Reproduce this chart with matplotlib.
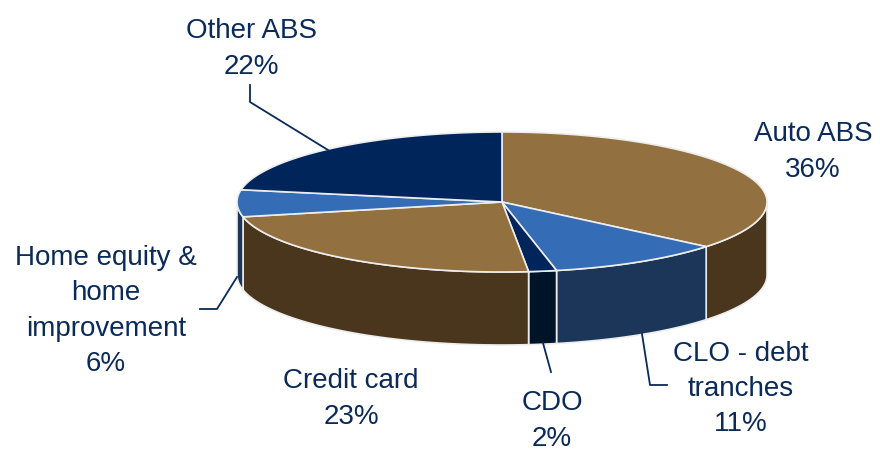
import numpy as np
import matplotlib
matplotlib.use("Agg")
import matplotlib.pyplot as plt

labels = ["Auto ABS\n36%", "CLO - debt\ntranches\n11%", "CDO\n2%", "Credit card\n23%",
          "Home equity &\nhome\nimprovement\n6%", "Other ABS\n22%"]
values = [36.0, 10.7, 1.7, 23.2, 6.2, 22.2]
top_colors = ["#93703F", "#346CB6", "#00255A", "#93703F", "#346CB6", "#00255A"]
side_colors = ["#4A361D", "#1B3659", "#001428", "#4A361D", "#1B3659", "#00255A"]
label_pos = [(813, 152), (741, 389), (552, 421), (351, 399), (106, 311), (251, 49)]
leaders = [[(250, 85), (250, 102), (328, 150)], [(642, 334), (650, 385), (667, 385)],
           [(543, 343), (551, 372)], [(237, 277), (217, 309), (200, 309)]]

cx, cy, rx, ry, depth = 502, 202, 265, 70, 73
edge_col = "#EDEDED"

fig = plt.figure(figsize=(8.8, 4.5), dpi=100)
ax = fig.add_axes([0, 0, 1, 1])
ax.set_xlim(0, 880)
ax.set_ylim(450, 0)
ax.axis("off")

edges = np.cumsum([0] + values) / sum(values) * 2 * np.pi
def pts(t, dy=0):
    return cx + rx * np.sin(t), cy - ry * np.cos(t) + dy

for i in range(len(values)):
    a, b = max(edges[i], np.pi / 2), min(edges[i + 1], 3 * np.pi / 2)
    if b > a:
        t = np.linspace(a, b, 100)
        x, y = pts(t)
        x2, y2 = pts(t[::-1], depth)
        ax.fill(np.r_[x, x2], np.r_[y, y2], fc=side_colors[i], ec=edge_col, lw=1.2)

for i in range(len(values)):
    t = np.linspace(edges[i], edges[i + 1], 200)
    x, y = pts(t)
    ax.fill(np.r_[cx, x], np.r_[cy, y], fc=top_colors[i], ec=edge_col, lw=1.2)

for line in leaders:
    xs, ys = zip(*line)
    ax.plot(xs, ys, color="#0A2A5A", lw=1.3)

for lab, (x, y) in zip(labels, label_pos):
    ax.text(x, y, lab, ha="center", va="center", fontsize=20, color="#0A2A5A",
            family="Liberation Sans", linespacing=1.47)

fig.savefig("out.png", dpi=100)
